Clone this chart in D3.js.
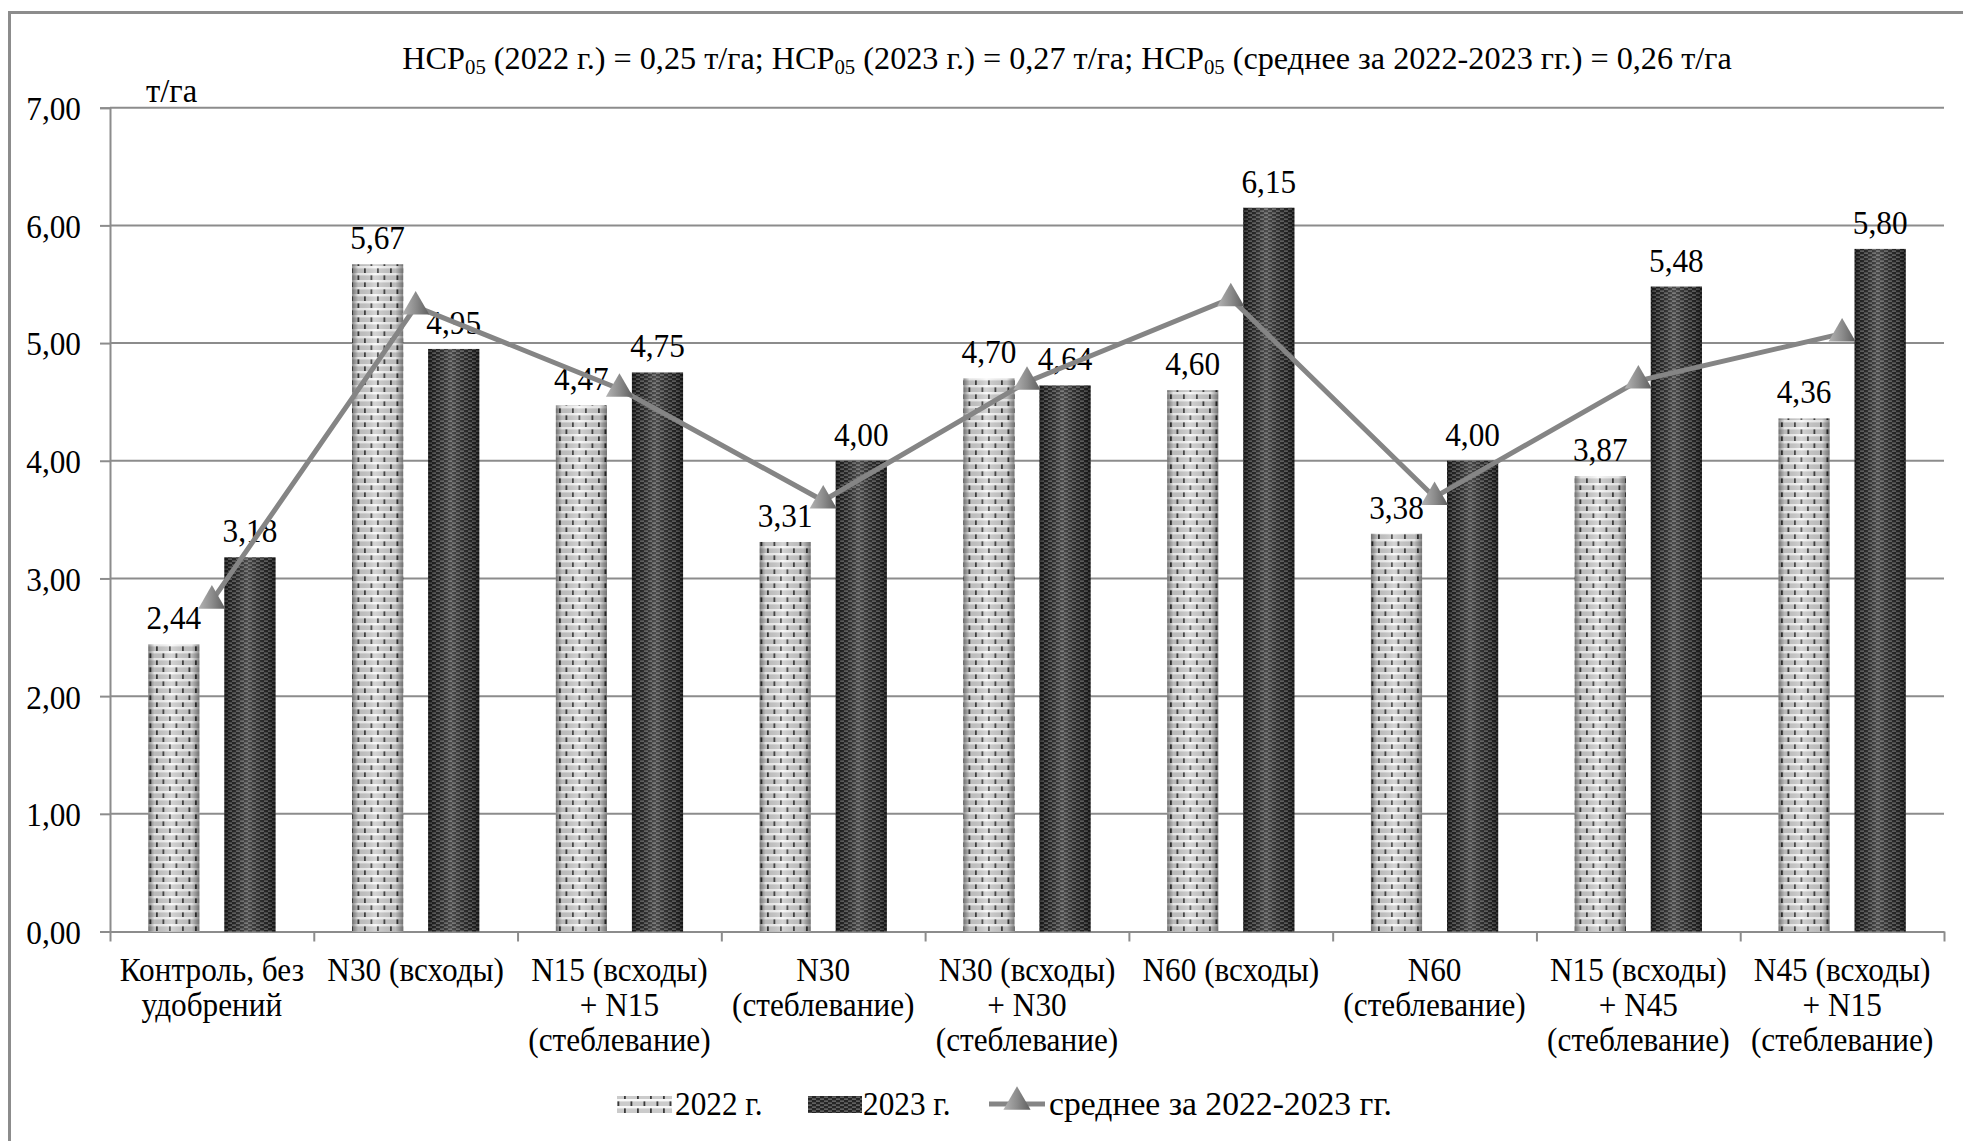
<!DOCTYPE html>
<html lang="ru">
<head>
<meta charset="utf-8">
<script src="https://cdn.jsdelivr.net/npm/d3@7"></script>
<style>
  html, body { margin: 0; padding: 0; background: #fff; }
  svg, svg text { font-family: "Liberation Serif", "Times New Roman", serif !important; }
  svg { display: block; }
</style>
</head>
<body>
<svg id="chart" width="1963" height="1141"></svg>
<script>
// Treatments (x categories), each label split into its printed lines
const categories = [
  ["Контроль, без", "удобрений"],
  ["N30 (всходы)"],
  ["N15 (всходы)", "+ N15", "(стеблевание)"],
  ["N30", "(стеблевание)"],
  ["N30 (всходы)", "+ N30", "(стеблевание)"],
  ["N60 (всходы)"],
  ["N60", "(стеблевание)"],
  ["N15 (всходы)", "+ N45", "(стеблевание)"],
  ["N45 (всходы)", "+ N15", "(стеблевание)"]
];
// Yield, t/ha
const yield2022 = [2.44, 5.67, 4.47, 3.31, 4.70, 4.60, 3.38, 3.87, 4.36];
const yield2023 = [3.18, 4.95, 4.75, 4.00, 4.64, 6.15, 4.00, 5.48, 5.80];
const yieldMean = [2.81, 5.31, 4.61, 3.66, 4.67, 5.38, 3.69, 4.68, 5.08];
const yTicks = [0, 1, 2, 3, 4, 5, 6, 7];
const seriesNames = ["2022 г.", "2023 г.", "среднее за 2022-2023 гг."];

const fmt = v => d3.format(".2f")(v).replace(".", ",");

// Narrow Times-like lettering
const FS = 34, SX = 0.92;

const svg = d3.select("#chart");
const defs = svg.append("defs");

// Brick texture for 2022
const p1 = defs.append("pattern").attr("id", "pat2022")
  .attr("patternUnits", "userSpaceOnUse").attr("width", 13).attr("height", 14);
p1.append("rect").attr("width", 13).attr("height", 14).attr("fill", "#cbcbcb");
p1.append("rect").attr("y", 0).attr("width", 13).attr("height", 2.4).attr("fill", "#f8f8f8");
p1.append("rect").attr("y", 7).attr("width", 13).attr("height", 2.4).attr("fill", "#f8f8f8");
p1.append("rect").attr("x", 0).attr("y", 2.4).attr("width", 1.8).attr("height", 4.6).attr("fill", "#3a3a3a");
p1.append("rect").attr("x", 6.5).attr("y", 9.4).attr("width", 1.8).attr("height", 4.6).attr("fill", "#3a3a3a");

// Fine woven texture for 2023
const p2 = defs.append("pattern").attr("id", "pat2023")
  .attr("patternUnits", "userSpaceOnUse").attr("width", 8).attr("height", 4);
p2.append("rect").attr("width", 8).attr("height", 4).attr("fill", "#252525");
p2.append("rect").attr("x", 0).attr("y", 0.6).attr("width", 4).attr("height", 1).attr("fill", "#8a8a8a");
p2.append("rect").attr("x", 4).attr("y", 2.6).attr("width", 4).attr("height", 1).attr("fill", "#8a8a8a");

// Cylinder-like shading laid over the bars
const sh = defs.append("linearGradient").attr("id", "barShade")
  .attr("x1", "0%").attr("x2", "100%").attr("y1", "0%").attr("y2", "0%");
[[0, "#000", 0.45], [0.12, "#000", 0.08], [0.45, "#fff", 0.18], [0.85, "#000", 0.08], [1, "#000", 0.45]]
  .forEach(([o, c, a]) => sh.append("stop").attr("offset", o).attr("stop-color", c).attr("stop-opacity", a));

// Shaded marker fill
const tg = defs.append("linearGradient").attr("id", "triShade")
  .attr("x1", "0%").attr("x2", "100%").attr("y1", "0%").attr("y2", "0%");
tg.append("stop").attr("offset", 0).attr("stop-color", "#b4b4b4");
tg.append("stop").attr("offset", 0.5).attr("stop-color", "#8c8c8c");
tg.append("stop").attr("offset", 1).attr("stop-color", "#5e5e5e");

// Frame
svg.append("rect").attr("x", 9.5).attr("y", 12.5).attr("width", 2000).attr("height", 1200)
  .attr("fill", "none").attr("stroke", "#8c8c8c").attr("stroke-width", 3);

const plotLeft = 110, plotRight = 1944, plotTop = 107.7, plotBottom = 931.5;

const x = d3.scaleBand().domain(d3.range(categories.length)).range([plotLeft, plotRight]).padding(0);
const xs = d3.scaleBand().domain([0, 1]).range([0, x.bandwidth()]).paddingInner(0.328).paddingOuter(0.503);
const y = d3.scaleLinear().domain([0, 7]).range([plotBottom, plotTop]);

// Text helper: place text at (tx, ty) with horizontal compression
const place = (sel, tx, ty, sx = SX) => sel.attr("transform", `translate(${tx},${ty}) scale(${sx},1)`);

// Gridlines
svg.append("g").selectAll("line").data(yTicks.filter(t => t > 0)).join("line")
  .attr("x1", plotLeft).attr("x2", plotRight)
  .attr("y1", d => y(d)).attr("y2", d => y(d))
  .attr("stroke", "#8c8c8c").attr("stroke-width", 2);

// Y axis
const yAxis = svg.append("g").attr("transform", `translate(${plotLeft},0)`)
  .call(d3.axisLeft(y).tickValues(yTicks).tickFormat(fmt).tickSize(10).tickPadding(29));
yAxis.select(".domain").attr("stroke", "#8c8c8c").attr("stroke-width", 2);
yAxis.selectAll(".tick line").attr("stroke", "#8c8c8c").attr("stroke-width", 2);
yAxis.selectAll(".tick text").attr("font-size", FS).attr("fill", "#000")
  .attr("x", null).attr("dy", "0.35em")
  .attr("transform", `translate(-29,0) scale(${SX},1)`);

// X axis: baseline and boundary ticks
const xAxis = svg.append("g").attr("transform", `translate(0,${plotBottom})`)
  .call(d3.axisBottom(d3.scaleLinear().domain([0, categories.length]).range([plotLeft, plotRight]))
    .tickValues(d3.range(categories.length + 1)).tickFormat("").tickSize(10).tickSizeOuter(0));
xAxis.select(".domain").attr("stroke", "#8c8c8c").attr("stroke-width", 2);
xAxis.selectAll(".tick line").attr("stroke", "#8c8c8c").attr("stroke-width", 2);

// Category labels
const catG = svg.append("g").attr("font-size", FS).attr("text-anchor", "middle");
categories.forEach((lines, i) => {
  const t = place(catG.append("text"), x(i) + x.bandwidth() / 2, 981);
  lines.forEach((ln, j) => t.append("tspan").attr("x", 0).attr("y", j * 35).text(ln));
});

// Bars
const series = [yield2022, yield2023];
const fills = ["url(#pat2022)", "url(#pat2023)"];
series.forEach((vals, s) => {
  const g = svg.append("g");
  g.selectAll("rect.bar").data(vals).join("rect").attr("class", "bar")
    .attr("x", (d, i) => x(i) + xs(s)).attr("width", xs.bandwidth())
    .attr("y", d => y(d)).attr("height", d => y(0) - y(d))
    .attr("fill", fills[s]);
  g.selectAll("rect.shade").data(vals).join("rect").attr("class", "shade")
    .attr("x", (d, i) => x(i) + xs(s)).attr("width", xs.bandwidth())
    .attr("y", d => y(d)).attr("height", d => y(0) - y(d))
    .attr("fill", "url(#barShade)");
});

// Bar value labels
series.forEach((vals, s) => {
  svg.append("g").attr("font-size", FS).attr("text-anchor", "middle")
    .selectAll("text").data(vals).join("text")
    .attr("transform", (d, i) => `translate(${x(i) + xs(s) + xs.bandwidth() / 2},${y(d) - 15}) scale(${SX},1)`)
    .text(fmt);
});

// Mean line with triangle markers
const cx = i => x(i) + x.bandwidth() / 2;
svg.append("path").datum(yieldMean)
  .attr("d", d3.line().x((d, i) => cx(i)).y(d => y(d)))
  .attr("fill", "none").attr("stroke", "#858585").attr("stroke-width", 5);
const tri = d3.symbol().type(d3.symbolTriangle).size(320);
svg.append("g").selectAll("path").data(yieldMean).join("path")
  .attr("transform", (d, i) => `translate(${cx(i)},${y(d)})`)
  .attr("d", tri).attr("fill", "url(#triShade)");

// Title with subscripts
const title = place(svg.append("text"), 1067, 69, 1.04)
  .attr("font-size", 31).attr("text-anchor", "middle");
const parts = [
  ["НСР", "05", " (2022 г.) = 0,25 т/га; "],
  ["НСР", "05", " (2023 г.) = 0,27 т/га; "],
  ["НСР", "05", " (среднее за 2022-2023 гг.) = 0,26 т/га"]
];
parts.forEach(([a, sub, b]) => {
  title.append("tspan").text(a);
  title.append("tspan").attr("font-size", 20).attr("dy", 5).text(sub);
  title.append("tspan").attr("dy", -5).text(b);
});

// Unit label
place(svg.append("text"), 146, 102, 0.96).attr("font-size", FS).text("т/га");

// Legend
const lg = svg.append("g").attr("font-size", FS);
const ly = 1104;
lg.append("rect").attr("x", 617).attr("y", ly - 8).attr("width", 55).attr("height", 17).attr("fill", fills[0]);
place(lg.append("text"), 675, ly + 11).text(seriesNames[0]);
lg.append("rect").attr("x", 808).attr("y", ly - 8).attr("width", 54).attr("height", 17).attr("fill", fills[1]);
place(lg.append("text"), 863, ly + 11).text(seriesNames[1]);
lg.append("line").attr("x1", 989).attr("x2", 1045).attr("y1", ly).attr("y2", ly)
  .attr("stroke", "#858585").attr("stroke-width", 5);
lg.append("path").attr("transform", `translate(1017,${ly - 2})`).attr("d", tri).attr("fill", "url(#triShade)");
place(lg.append("text"), 1049, ly + 11, 0.99).text(seriesNames[2]);
</script>
</body>
</html>
